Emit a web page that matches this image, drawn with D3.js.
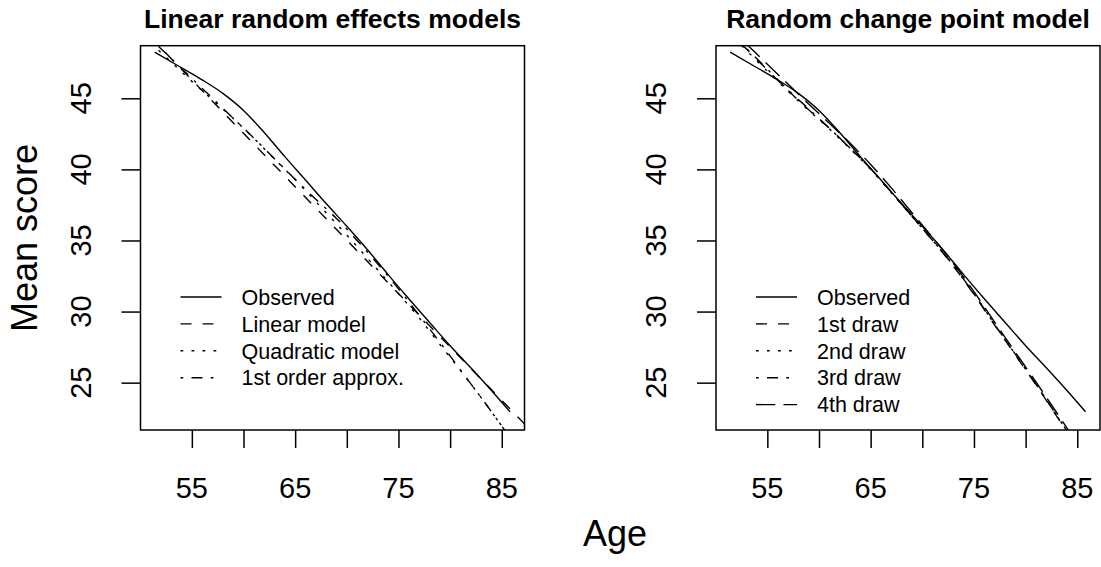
<!DOCTYPE html>
<html>
<head>
<meta charset="utf-8">
<script src="https://cdn.jsdelivr.net/npm/d3@7"></script>
<style>
  body { margin: 0; background: #fff; }
  svg { display: block; font-family: "Liberation Sans", Arial, sans-serif; }
</style>
</head>
<body>
<div id="chart"></div>
<script>
// observed mean score (same in both panels)
const obsAge   = [51.4, 54, 56, 58, 60, 62, 64, 66, 68, 70, 72, 74, 76, 78, 80, 82, 84, 85.8];
const obsScore = [48.25, 47.15, 46.3, 45.35, 44.15, 42.6, 40.9, 39.25, 37.6, 36.0, 34.35, 32.6, 30.9, 29.25, 27.6, 26.05, 24.45, 22.95];

// left panel: linear random effects models
const linAge   = [51, 88];
const linScore = [49.3, 21.5];
const modelAge = [51, 53, 55, 57, 59, 61, 63, 65, 67, 69, 71, 73, 75, 77, 79, 81, 83, 85, 87];
const quadScore  = [48.9, 47.55, 46.19, 44.89, 43.59, 42.19, 40.73, 39.28, 37.73, 36.17, 34.57, 32.92, 31.26, 29.56, 27.7, 25.85, 23.95, 21.95, 19.9];
const firstScore = [49.2, 47.8, 46.4, 45.0, 43.6, 42.2, 40.75, 39.3, 37.9, 36.55, 35.0, 33.35, 31.6, 29.75, 27.85, 25.9, 23.95, 21.95, 19.9];

// right panel: random change point model draws
const drawAge = [51, 53, 55, 57, 59, 61, 63, 65, 67, 69, 71, 73, 75, 77, 79, 81, 83, 85];
const draw1 = [49.9, 48.45, 47.0, 45.55, 44.2, 42.9, 41.5, 40.05, 38.4, 36.7, 35.0, 33.2, 31.2, 29.05, 26.95, 24.85, 22.65, 20.45];
const draw2 = [49.8, 48.35, 46.9, 45.5, 44.15, 42.85, 41.45, 40.0, 38.35, 36.7, 35.0, 33.25, 31.25, 29.1, 27.0, 24.9, 22.7, 20.5];
const draw3 = [50.0, 48.5, 47.05, 45.6, 44.25, 42.9, 41.5, 40.05, 38.4, 36.7, 35.0, 33.25, 31.25, 29.1, 27.0, 24.9, 22.7, 20.5];
const draw4 = [50.2, 48.8, 47.4, 46.0, 44.6, 43.25, 41.85, 40.35, 38.7, 36.95, 35.2, 33.4, 31.4, 29.25, 27.15, 25.05, 22.9, 20.7];

const xTicks = [55, 60, 65, 70, 75, 80, 85];
const xLabels = [55, 65, 75, 85];
const yTicks = [25, 30, 35, 40, 45];

// line types (R lty 1..5)
const dash = {
    solid: null,
    dashed: "11,11",
    dotted: "2.75,8.25",
    dotdash: "2.75,8.25,11,8.25",
    longdash: "19.25,8.25"
};

const W = 1101, H = 567;
const svg = d3.select("#chart").append("svg")
    .attr("width", W)
    .attr("height", H);

const boxTop = 45.7, boxBottom = 430, boxW = 384;

function zip(a, b) { return a.map((v, i) => [v, b[i]]); }

function drawPanel(cfg) {
    const x = d3.scaleLinear().domain([50.03, 87.2]).range([cfg.left, cfg.left + boxW]);
    const y = d3.scaleLinear().domain([21.67, 48.70]).range([boxBottom, boxTop]);

    const g = svg.append("g");

    g.append("clipPath").attr("id", cfg.id)
        .append("rect")
        .attr("x", cfg.left).attr("y", boxTop)
        .attr("width", boxW).attr("height", boxBottom - boxTop);

    const line = d3.line()
        .x(d => x(d[0]))
        .y(d => y(d[1]))
        .curve(d3.curveMonotoneX);

    cfg.series.forEach(s => {
        g.append("path")
            .attr("clip-path", `url(#${cfg.id})`)
            .attr("d", line(zip(s.age, s.score)))
            .attr("fill", "none")
            .attr("stroke", "#000")
            .attr("stroke-width", 1.4)
            .attr("stroke-dasharray", dash[s.lty]);
    });

    // box
    g.append("rect")
        .attr("x", cfg.left).attr("y", boxTop)
        .attr("width", boxW).attr("height", boxBottom - boxTop)
        .attr("fill", "none").attr("stroke", "#000").attr("stroke-width", 1.5);

    // x axis
    const xa = g.append("g").attr("transform", `translate(0,${boxBottom})`)
        .call(d3.axisBottom(x).tickValues(xTicks).tickSize(18).tickFormat(""));
    xa.select(".domain").remove();
    xa.selectAll(".tick line").attr("stroke-width", 1.5);
    g.selectAll(null).data(xLabels).enter().append("text")
        .attr("x", d => x(d)).attr("y", 498)
        .attr("text-anchor", "middle")
        .style("font-size", "29px")
        .text(d => d);

    // y axis
    const ya = g.append("g").attr("transform", `translate(${cfg.left},0)`)
        .call(d3.axisLeft(y).tickValues(yTicks).tickSize(19).tickFormat(""));
    ya.select(".domain").remove();
    ya.selectAll(".tick line").attr("stroke-width", 1.5);
    const lx = cfg.left - 50;
    g.selectAll(null).data(yTicks).enter().append("text")
        .attr("transform", d => `translate(${lx},${y(d)}) rotate(-90)`)
        .attr("text-anchor", "middle")
        .style("font-size", "29px")
        .text(d => d);

    // title
    g.append("text")
        .attr("x", cfg.left + boxW / 2).attr("y", 28)
        .attr("text-anchor", "middle")
        .style("font-size", "26.5px").style("font-weight", "bold")
        .text(cfg.title);

    // legend
    const leg = g.append("g");
    cfg.series.forEach((s, i) => {
        const ly = 297 + i * 26.9;
        leg.append("line")
            .attr("x1", cfg.left + 40).attr("x2", cfg.left + 81)
            .attr("y1", ly).attr("y2", ly)
            .attr("stroke", "#000").attr("stroke-width", 1.4)
            .attr("stroke-dasharray", dash[s.lty]);
        leg.append("text")
            .attr("x", cfg.left + 101).attr("y", ly)
            .attr("dy", "0.36em")
            .style("font-size", "21.5px")
            .text(s.name);
    });
}

drawPanel({
    id: "clipL", left: 140.5, title: "Linear random effects models",
    series: [
        { name: "Observed", lty: "solid", age: obsAge, score: obsScore },
        { name: "Linear model", lty: "dashed", age: linAge, score: linScore },
        { name: "Quadratic model", lty: "dotted", age: modelAge, score: quadScore },
        { name: "1st order approx.", lty: "dotdash", age: modelAge, score: firstScore }
    ]
});

drawPanel({
    id: "clipR", left: 716, title: "Random change point model",
    series: [
        { name: "Observed", lty: "solid", age: obsAge, score: obsScore },
        { name: "1st draw", lty: "dashed", age: drawAge, score: draw1 },
        { name: "2nd draw", lty: "dotted", age: drawAge, score: draw2 },
        { name: "3rd draw", lty: "dotdash", age: drawAge, score: draw3 },
        { name: "4th draw", lty: "longdash", age: drawAge, score: draw4 }
    ]
});

// shared axis titles
svg.append("text")
    .attr("transform", `translate(37,238) rotate(-90)`)
    .attr("text-anchor", "middle")
    .style("font-size", "36px")
    .text("Mean score");

svg.append("text")
    .attr("x", 615).attr("y", 546)
    .attr("text-anchor", "middle")
    .style("font-size", "36px")
    .text("Age");
</script>
</body>
</html>
